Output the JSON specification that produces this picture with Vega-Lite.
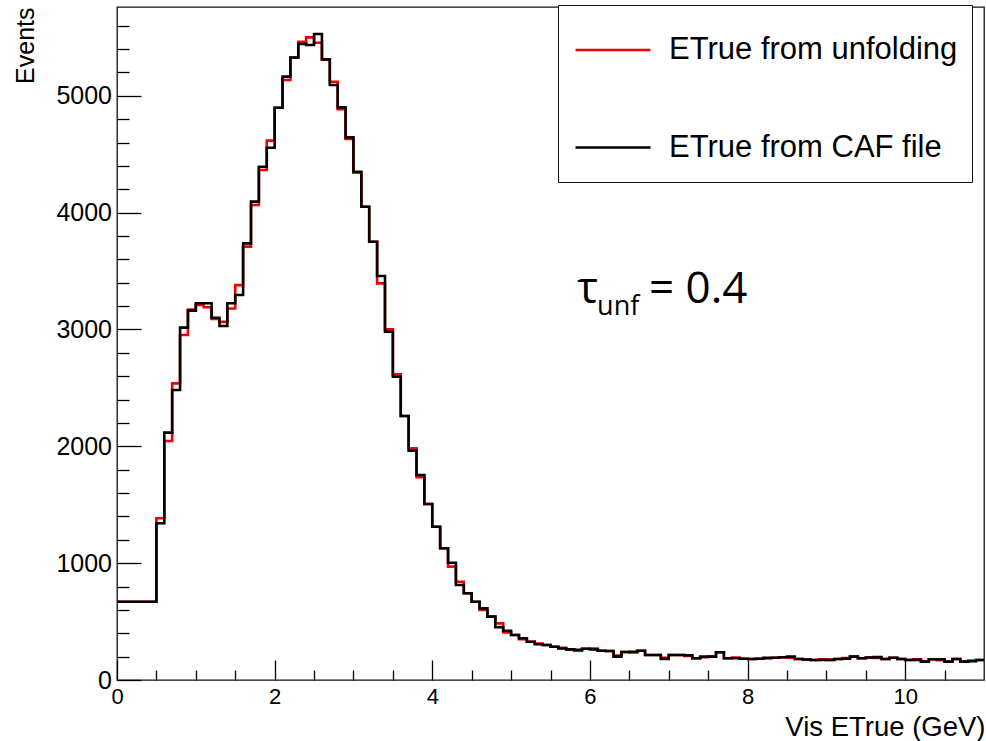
{
  "$schema": "https://vega.github.io/schema/vega-lite/v6.json",
  "width": 867,
  "height": 673,
  "autosize": "none",
  "padding": {"left": 117, "top": 7, "right": 2, "bottom": 61},
  "background": "white",
  "config": {
    "view": {"stroke": "#111111", "strokeWidth": 1.3},
    "axis": {"grid": false, "labelColor": "black", "titleColor": "black", "tickColor": "black"}
  },
  "datasets": {
    "caf": [
      {"E": 0.0, "n": 670}, {"E": 0.5, "n": 1341}, {"E": 0.6, "n": 2117}, {"E": 0.7, "n": 2482}, {"E": 0.8, "n": 3016}, {"E": 0.9, "n": 3161},
      {"E": 1.0, "n": 3224}, {"E": 1.1, "n": 3224}, {"E": 1.2, "n": 3101}, {"E": 1.3, "n": 3030}, {"E": 1.4, "n": 3224}, {"E": 1.5, "n": 3295},
      {"E": 1.6, "n": 3737}, {"E": 1.7, "n": 4094}, {"E": 1.8, "n": 4393}, {"E": 1.9, "n": 4556}, {"E": 2.0, "n": 4898}, {"E": 2.1, "n": 5164},
      {"E": 2.2, "n": 5328}, {"E": 2.3, "n": 5443}, {"E": 2.4, "n": 5435}, {"E": 2.5, "n": 5529}, {"E": 2.6, "n": 5312}, {"E": 2.7, "n": 5092},
      {"E": 2.8, "n": 4901}, {"E": 2.9, "n": 4644}, {"E": 3.0, "n": 4350}, {"E": 3.1, "n": 4051}, {"E": 3.2, "n": 3751}, {"E": 3.3, "n": 3458},
      {"E": 3.4, "n": 2981}, {"E": 3.5, "n": 2596}, {"E": 3.6, "n": 2260}, {"E": 3.7, "n": 1963}, {"E": 3.8, "n": 1755}, {"E": 3.9, "n": 1506},
      {"E": 4.0, "n": 1312}, {"E": 4.1, "n": 1127}, {"E": 4.2, "n": 1004}, {"E": 4.3, "n": 813}, {"E": 4.4, "n": 742}, {"E": 4.5, "n": 670},
      {"E": 4.6, "n": 613}, {"E": 4.7, "n": 542}, {"E": 4.8, "n": 451}, {"E": 4.9, "n": 422}, {"E": 5.0, "n": 385}, {"E": 5.1, "n": 357},
      {"E": 5.2, "n": 328}, {"E": 5.3, "n": 306}, {"E": 5.4, "n": 300}, {"E": 5.5, "n": 285}, {"E": 5.6, "n": 270}, {"E": 5.7, "n": 262},
      {"E": 5.8, "n": 258}, {"E": 5.9, "n": 268}, {"E": 6.0, "n": 262}, {"E": 6.1, "n": 250}, {"E": 6.2, "n": 248}, {"E": 6.3, "n": 200},
      {"E": 6.4, "n": 240}, {"E": 6.5, "n": 242}, {"E": 6.6, "n": 250}, {"E": 6.7, "n": 214}, {"E": 6.8, "n": 214}, {"E": 6.9, "n": 180},
      {"E": 7.0, "n": 214}, {"E": 7.1, "n": 214}, {"E": 7.2, "n": 212}, {"E": 7.3, "n": 186}, {"E": 7.4, "n": 200}, {"E": 7.5, "n": 200},
      {"E": 7.6, "n": 237}, {"E": 7.7, "n": 186}, {"E": 7.8, "n": 186}, {"E": 7.9, "n": 182}, {"E": 8.0, "n": 180}, {"E": 8.1, "n": 182},
      {"E": 8.2, "n": 191}, {"E": 8.3, "n": 191}, {"E": 8.4, "n": 195}, {"E": 8.5, "n": 200}, {"E": 8.6, "n": 180}, {"E": 8.7, "n": 176},
      {"E": 8.8, "n": 171}, {"E": 8.9, "n": 171}, {"E": 9.0, "n": 172}, {"E": 9.1, "n": 180}, {"E": 9.2, "n": 182}, {"E": 9.3, "n": 200},
      {"E": 9.4, "n": 186}, {"E": 9.5, "n": 192}, {"E": 9.6, "n": 196}, {"E": 9.7, "n": 180}, {"E": 9.8, "n": 190}, {"E": 9.9, "n": 180},
      {"E": 10.0, "n": 171}, {"E": 10.1, "n": 172}, {"E": 10.2, "n": 157}, {"E": 10.3, "n": 177}, {"E": 10.4, "n": 178}, {"E": 10.5, "n": 157},
      {"E": 10.6, "n": 180}, {"E": 10.7, "n": 157}, {"E": 10.8, "n": 160}, {"E": 10.9, "n": 171}, {"E": 11.0, "n": 171}
    ],
    "unfold": [
      {"E": 0.0, "n": 670}, {"E": 0.5, "n": 1384}, {"E": 0.6, "n": 2045}, {"E": 0.7, "n": 2539}, {"E": 0.8, "n": 2953}, {"E": 0.9, "n": 3170},
      {"E": 1.0, "n": 3210}, {"E": 1.1, "n": 3190}, {"E": 1.2, "n": 3090}, {"E": 1.3, "n": 3065}, {"E": 1.4, "n": 3180}, {"E": 1.5, "n": 3380},
      {"E": 1.6, "n": 3709}, {"E": 1.7, "n": 4065}, {"E": 1.8, "n": 4365}, {"E": 1.9, "n": 4616}, {"E": 2.0, "n": 4898}, {"E": 2.1, "n": 5135},
      {"E": 2.2, "n": 5328}, {"E": 2.3, "n": 5463}, {"E": 2.4, "n": 5500}, {"E": 2.5, "n": 5454}, {"E": 2.6, "n": 5312}, {"E": 2.7, "n": 5120},
      {"E": 2.8, "n": 4885}, {"E": 2.9, "n": 4630}, {"E": 3.0, "n": 4342}, {"E": 3.1, "n": 4051}, {"E": 3.2, "n": 3751}, {"E": 3.3, "n": 3395},
      {"E": 3.4, "n": 3001}, {"E": 3.5, "n": 2616}, {"E": 3.6, "n": 2260}, {"E": 3.7, "n": 1983}, {"E": 3.8, "n": 1735}, {"E": 3.9, "n": 1506},
      {"E": 4.0, "n": 1312}, {"E": 4.1, "n": 1127}, {"E": 4.2, "n": 970}, {"E": 4.3, "n": 841}, {"E": 4.4, "n": 742}, {"E": 4.5, "n": 670},
      {"E": 4.6, "n": 599}, {"E": 4.7, "n": 542}, {"E": 4.8, "n": 485}, {"E": 4.9, "n": 408}, {"E": 5.0, "n": 385}, {"E": 5.1, "n": 350},
      {"E": 5.2, "n": 328}, {"E": 5.3, "n": 312}, {"E": 5.4, "n": 300}, {"E": 5.5, "n": 285}, {"E": 5.6, "n": 275}, {"E": 5.7, "n": 262},
      {"E": 5.8, "n": 250}, {"E": 5.9, "n": 268}, {"E": 6.0, "n": 270}, {"E": 6.1, "n": 250}, {"E": 6.2, "n": 248}, {"E": 6.3, "n": 210},
      {"E": 6.4, "n": 240}, {"E": 6.5, "n": 235}, {"E": 6.6, "n": 250}, {"E": 6.7, "n": 214}, {"E": 6.8, "n": 214}, {"E": 6.9, "n": 190},
      {"E": 7.0, "n": 214}, {"E": 7.1, "n": 214}, {"E": 7.2, "n": 205}, {"E": 7.3, "n": 186}, {"E": 7.4, "n": 195}, {"E": 7.5, "n": 200},
      {"E": 7.6, "n": 237}, {"E": 7.7, "n": 186}, {"E": 7.8, "n": 192}, {"E": 7.9, "n": 182}, {"E": 8.0, "n": 180}, {"E": 8.1, "n": 182},
      {"E": 8.2, "n": 185}, {"E": 8.3, "n": 191}, {"E": 8.4, "n": 195}, {"E": 8.5, "n": 190}, {"E": 8.6, "n": 180}, {"E": 8.7, "n": 176},
      {"E": 8.8, "n": 171}, {"E": 8.9, "n": 178}, {"E": 9.0, "n": 172}, {"E": 9.1, "n": 180}, {"E": 9.2, "n": 188}, {"E": 9.3, "n": 200},
      {"E": 9.4, "n": 186}, {"E": 9.5, "n": 192}, {"E": 9.6, "n": 188}, {"E": 9.7, "n": 180}, {"E": 9.8, "n": 190}, {"E": 9.9, "n": 180},
      {"E": 10.0, "n": 171}, {"E": 10.1, "n": 178}, {"E": 10.2, "n": 157}, {"E": 10.3, "n": 177}, {"E": 10.4, "n": 170}, {"E": 10.5, "n": 157},
      {"E": 10.6, "n": 180}, {"E": 10.7, "n": 157}, {"E": 10.8, "n": 166}, {"E": 10.9, "n": 171}, {"E": 11.0, "n": 171}
    ],
    "label_main": [
      {"E": 5.838, "n": 3227, "txt": "τ"},
      {"E": 6.75, "n": 3227, "txt": "= 0.4"}
    ],
    "label_sub": [
      {"E": 6.091, "n": 3120, "txt": "unf"}
    ]
  },
  "resolve": {"axis": {"x": "independent", "y": "independent"}},
  "layer": [
    {
      "data": {"name": "unfold"},
      "mark": {"type": "line", "interpolate": "step-after", "strokeWidth": 2.6},
      "encoding": {
        "x": {
          "field": "E", "type": "quantitative",
          "scale": {"domain": [0, 11], "nice": false, "zero": false},
          "axis": {
            "orient": "bottom", "values": [0, 2, 4, 6, 8, 10], "ticks": false, "domain": false,
            "labelFont": "Liberation Sans", "labelFontSize": 22, "labelPadding": 6, "labelFlush": false,
            "title": "Vis ETrue (GeV)", "titleFont": "Liberation Sans", "titleFontSize": 27.5, "titleFontWeight": "normal",
            "titleAnchor": "end", "titleAlign": "right", "titleX": 868, "titleY": 55, "titleBaseline": "alphabetic"
          }
        },
        "y": {
          "field": "n", "type": "quantitative",
          "scale": {"domain": [0, 5760], "nice": false},
          "axis": {
            "orient": "left", "values": [0, 1000, 2000, 3000, 4000, 5000], "format": "d", "ticks": false, "domain": false,
            "labelFont": "Liberation Sans", "labelFontSize": 25, "labelPadding": 5.5, "labelFlush": false,
            "title": "Events", "titleFont": "Liberation Sans", "titleFontSize": 25, "titleFontWeight": "normal",
            "titleAngle": -90, "titleAnchor": "end", "titleAlign": "right", "titleX": -84, "titleY": 0, "titleBaseline": "alphabetic"
          }
        },
        "color": {
          "datum": "ETrue from unfolding",
          "type": "nominal",
          "scale": {"domain": ["ETrue from unfolding", "ETrue from CAF file"], "range": ["#f00000", "#000000"]},
          "legend": {
            "orient": "none", "legendX": 441, "legendY": -2,
            "title": " ", "titleFontSize": 2, "titlePadding": 9,
            "symbolType": "stroke", "symbolSize": 5625, "symbolStrokeWidth": 2.5, "symbolOffset": 2,
            "labelFont": "Liberation Sans", "labelFontSize": 31, "labelColor": "black", "labelOffset": 17, "labelLimit": 600,
            "clipHeight": 40, "rowPadding": 57.6, "padding": 14,
            "strokeColor": "#111111", "fillColor": "white"
          }
        }
      }
    },
    {
      "data": {"name": "caf"},
      "mark": {"type": "line", "interpolate": "step-after", "strokeWidth": 2.6},
      "encoding": {
        "x": {
          "field": "E", "type": "quantitative",
          "axis": {"orient": "bottom", "values": [0, 2, 4, 6, 8, 10], "labels": false, "domain": false, "tickSize": -20, "tickWidth": 1.3, "title": null}
        },
        "y": {
          "field": "n", "type": "quantitative",
          "axis": {"orient": "left", "values": [0, 1000, 2000, 3000, 4000, 5000], "labels": false, "domain": false, "tickSize": -24, "tickWidth": 1.3, "title": null}
        },
        "color": {
          "datum": "ETrue from CAF file",
          "type": "nominal",
          "scale": {"domain": ["ETrue from unfolding", "ETrue from CAF file"], "range": ["#f00000", "#000000"]}
        }
      }
    },
    {
      "data": {"name": "label_main"},
      "mark": {"type": "text", "font": "Open Sans", "fontSize": 44, "align": "left", "baseline": "alphabetic", "color": "black"},
      "encoding": {
        "x": {
          "field": "E", "type": "quantitative",
          "axis": {"orient": "bottom", "values": [0.5, 1, 1.5, 2.5, 3, 3.5, 4.5, 5, 5.5, 6.5, 7, 7.5, 8.5, 9, 9.5, 10.5], "labels": false, "domain": false, "tickSize": -10, "tickWidth": 1.3, "title": null}
        },
        "y": {
          "field": "n", "type": "quantitative",
          "axis": {"orient": "left", "values": [200, 400, 600, 800, 1200, 1400, 1600, 1800, 2200, 2400, 2600, 2800, 3200, 3400, 3600, 3800, 4200, 4400, 4600, 4800, 5200, 5400, 5600], "labels": false, "domain": false, "tickSize": -12, "tickWidth": 1.3, "title": null}
        },
        "text": {"field": "txt"}
      }
    },
    {
      "data": {"name": "label_sub"},
      "mark": {"type": "text", "font": "Open Sans", "fontSize": 27, "align": "left", "baseline": "alphabetic", "color": "black"},
      "encoding": {
        "x": {"field": "E", "type": "quantitative", "axis": null},
        "y": {"field": "n", "type": "quantitative", "axis": null},
        "text": {"field": "txt"}
      }
    }
  ]
}
